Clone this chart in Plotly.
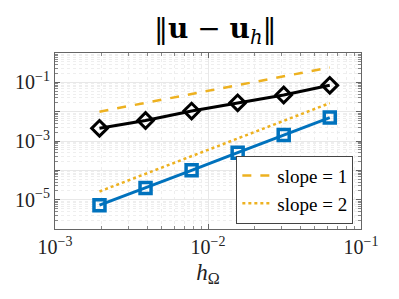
import plotly.graph_objects as go

h = [1/512, 1/256, 1/128, 1/64, 1/32, 1/16]
err_black = [2.7e-3, 5.0e-3, 1.05e-2, 2.0e-2, 3.7e-2, 7.9e-2]
err_blue = [6.5e-6, 2.5e-5, 1.0e-4, 4.0e-4, 1.6e-3, 6.3e-3]
slope1 = [1.0e-2, 2.0e-2, 4.0e-2, 8.0e-2, 1.6e-1, 3.2e-1]
slope2 = [1.9e-5, 7.6e-5, 3.05e-4, 1.2e-3, 4.9e-3, 1.95e-2]

xticks = [1e-3, 1e-2, 1e-1]
xticktext = ["10<sup>−3</sup>", "10<sup>−2</sup>", "10<sup>−1</sup>"]
yticks = [1e-6, 1e-5, 1e-4, 1e-3, 1e-2, 1e-1, 1]
yticktext = ["", "10<sup>−5</sup>", "", "10<sup>−3</sup>", "", "10<sup>−1</sup>", ""]

font = "Liberation Serif"
fig = go.Figure()
fig.add_trace(go.Scatter(x=h, y=slope1, mode="lines", name="slope = 1",
                         line=dict(color="#EDB120", width=2.5, dash="dash")))
fig.add_trace(go.Scatter(x=h, y=slope2, mode="lines", name="slope = 2",
                         line=dict(color="#EDB120", width=2.5, dash="dot")))
fig.add_trace(go.Scatter(x=h, y=err_black, mode="lines+markers", showlegend=False,
                         line=dict(color="black", width=3),
                         marker=dict(symbol="diamond-open", size=12, color="black",
                                     line=dict(width=3, color="black"))))
fig.add_trace(go.Scatter(x=h, y=err_blue, mode="lines+markers", showlegend=False,
                         line=dict(color="#0072BD", width=3),
                         marker=dict(symbol="square-open", size=11, color="#0072BD",
                                     line=dict(width=3.5, color="#0072BD"))))

axis_common = dict(showline=True, linecolor="#666", linewidth=1, mirror="ticks",
                   ticks="inside", ticklen=5, tickcolor="#666",
                   showgrid=True, gridcolor="#e8e8e8", gridwidth=1,
                   zeroline=False, automargin=False,
                   tickfont=dict(family=font, size=20, color="#222"))

minor = dict(ticks="inside", ticklen=3, tickcolor="#888", dtick="D1",
             showgrid=True, gridcolor="#eeeeee", griddash="dot")

fig.update_xaxes(type="log", range=[-3, -1], tickvals=xticks, ticktext=xticktext,
                 minor=minor,
                 title=dict(text="<i>h</i><sub>Ω</sub>", font=dict(family=font, size=23, color="#222"),
                            standoff=6),
                 **axis_common)
fig.update_yaxes(type="log", range=[-6, 0], tickvals=yticks, ticktext=yticktext,
                 minor=minor, **axis_common)

fig.update_layout(
    width=391, height=291,
    margin=dict(l=47, r=38, t=45, b=70),
    paper_bgcolor="white", plot_bgcolor="white",
    title=dict(text="‖<b>u</b> − <b>u</b><sub><i>h</i></sub>‖", x=0.53, xanchor="center",
               y=0.93, yanchor="middle", automargin=False,
               font=dict(family="DejaVu Serif", size=28, color="black")),
    legend=dict(x=0.975, y=0.03, xanchor="right", yanchor="bottom",
                bgcolor="white", bordercolor="#444", borderwidth=1,
                font=dict(family=font, size=19, color="black"),
                tracegroupgap=0, itemwidth=30),
    showlegend=True,
)

fig.write_html("out.html")
